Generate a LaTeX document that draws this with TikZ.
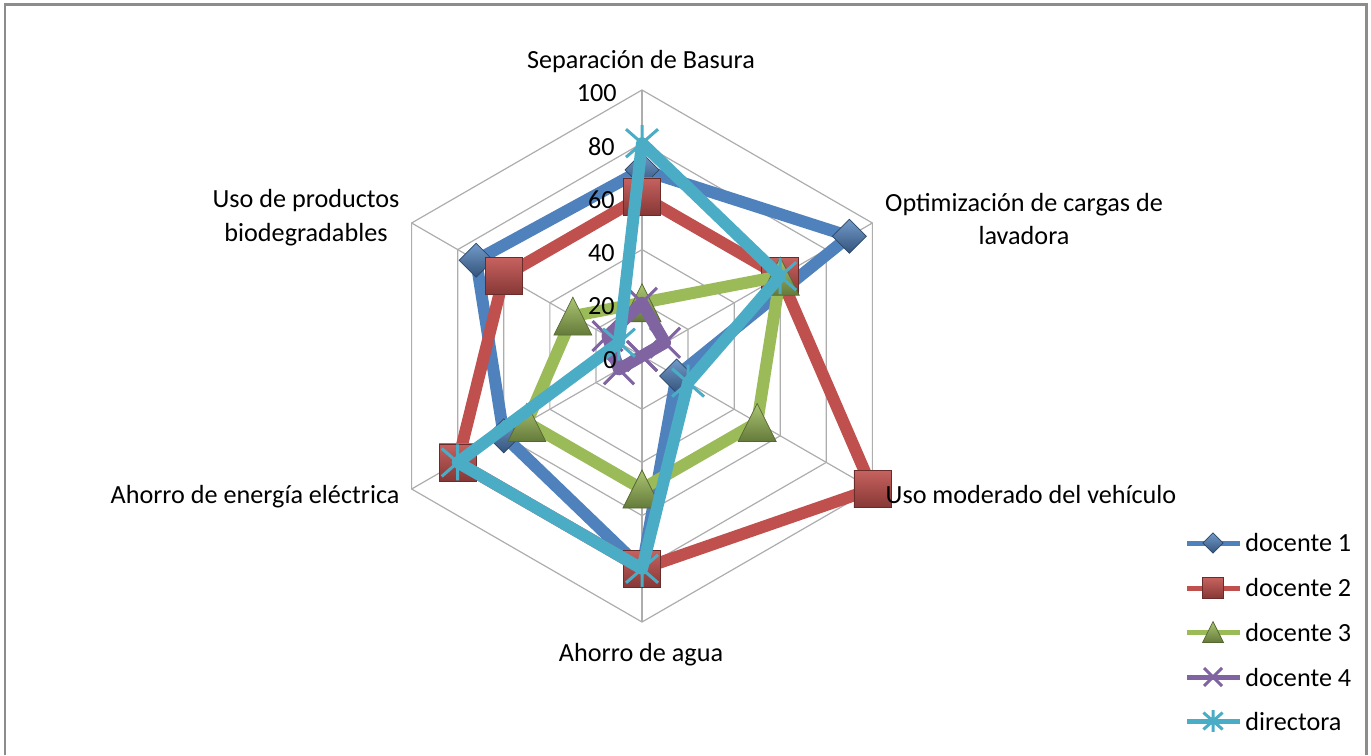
\documentclass[tikz,border=0pt]{standalone}
\usepackage{fontspec}
\setmainfont{Carlito}
\usetikzlibrary{calc}
\definecolor{azul}{HTML}{4F81BD}
\definecolor{rojo}{HTML}{C0504D}
\definecolor{verde}{HTML}{9BBB59}
\definecolor{morado}{HTML}{8064A2}
\definecolor{celeste}{HTML}{4BACC6}
\definecolor{marcogris}{HTML}{8C8C8C}
\definecolor{rejillagris}{HTML}{ADADAD}
\def\escala{2.66}
\tikzset{
	rejilla/.style={draw=rejillagris, line width=0.024cm},
	marco/.style={draw=marcogris, line width=0.06cm},
	serie/.style={line width=0.24cm, line join=round},
	eje/.style={anchor=east, inner sep=0pt},
	etiqueta/.style={align=center, inner sep=0pt},
	leyenda/.style={anchor=west, inner sep=0pt},
	diamante/.pic={\path[draw=azul!55!black, line width=0.4pt, top color=azul!80!white, bottom color=azul!65!black] (0,17) -- (17,0) -- (0,-17) -- (-17,0) -- cycle;},
	cuadro/.pic={\path[draw=rojo!55!black, line width=0.4pt, top color=rojo!90!white, bottom color=rojo!70!black] (-18.5,-18.5) rectangle (18.5,18.5);},
	triangulo/.pic={\path[draw=verde!55!black, line width=0.4pt, top color=verde!85!white, bottom color=verde!65!black] (0,19) -- (19,-19) -- (-19,-19) -- cycle;},
	equis/.pic={\draw[morado, line width=0.06cm] (-15,-15) -- (15,15) (-15,15) -- (15,-15);},
	estrella/.pic={\draw[celeste, line width=0.06cm] (-16,-14) -- (16,14) (-16,14) -- (16,-14) (0,-18) -- (0,18);}
}

\begin{document}
\begin{tikzpicture}[x=0.02cm, y=0.02cm, font=\fontsize{14.9}{19.3}\selectfont]
	%%%%% START %%%%%
	\useasboundingbox (0,0) rectangle (1371,755);
	\draw[marco] (5,0) -- (5,750) -- (1366,750) -- (1366,0);
	
	\begin{scope}[shift={(642,399)}]
		% anillos y radios
		\foreach \v in {20,40,60,80,100}
			\draw[rejilla] (90:{\v*\escala}) -- (30:{\v*\escala}) -- (-30:{\v*\escala}) -- (-90:{\v*\escala}) -- (210:{\v*\escala}) -- (150:{\v*\escala}) -- cycle;
		\foreach \a in {90,30,-30,-90,210,150}
			\draw[rejilla] (0,0) -- (\a:{100*\escala});
		
		% docente 1
		\coordinate (a1) at (90:{70*\escala});
		\coordinate (a2) at (30:{90*\escala});
		\coordinate (a3) at (-30:{15*\escala});
		\coordinate (a4) at (-90:{80*\escala});
		\coordinate (a5) at (210:{60*\escala});
		\coordinate (a6) at (150:{72*\escala});
		\draw[serie, azul] (a1) -- (a2) -- (a3) -- (a4) -- (a5) -- (a6) -- cycle;
		\pic at (a1) {diamante}; \pic at (a2) {diamante}; \pic at (a3) {diamante};
		\pic at (a4) {diamante}; \pic at (a5) {diamante}; \pic at (a6) {diamante};
		
		% docente 2
		\coordinate (b1) at (90:{60*\escala});
		\coordinate (b2) at (30:{60*\escala});
		\coordinate (b3) at (-30:{100*\escala});
		\coordinate (b4) at (-90:{80*\escala});
		\coordinate (b5) at (210:{80*\escala});
		\coordinate (b6) at (150:{60*\escala});
		\draw[serie, rojo] (b1) -- (b2) -- (b3) -- (b4) -- (b5) -- (b6) -- cycle;
		\pic at (b1) {cuadro}; \pic at (b2) {cuadro}; \pic at (b3) {cuadro};
		\pic at (b4) {cuadro}; \pic at (b5) {cuadro}; \pic at (b6) {cuadro};
		
		% docente 3
		\coordinate (c1) at (90:{20*\escala});
		\coordinate (c2) at (30:{60*\escala});
		\coordinate (c3) at (-30:{50*\escala});
		\coordinate (c4) at (-90:{50*\escala});
		\coordinate (c5) at (210:{50*\escala});
		\coordinate (c6) at (150:{30*\escala});
		\draw[serie, verde] (c1) -- (c2) -- (c3) -- (c4) -- (c5) -- (c6) -- cycle;
		\pic at (c1) {triangulo}; \pic at (c2) {triangulo}; \pic at (c3) {triangulo};
		\pic at (c4) {triangulo}; \pic at (c5) {triangulo}; \pic at (c6) {triangulo};
		
		% docente 4
		\coordinate (d1) at (90:{20*\escala});
		\coordinate (d2) at (30:{10*\escala});
		\coordinate (d3) at (-30:{0*\escala});
		\coordinate (d4) at (-90:{0*\escala});
		\coordinate (d5) at (210:{10*\escala});
		\coordinate (d6) at (150:{15*\escala});
		\draw[serie, morado] (d1) -- (d2) -- (d3) -- (d4) -- (d5) -- (d6) -- cycle;
		\pic at (d1) {equis}; \pic at (d2) {equis}; \pic at (d3) {equis};
		\pic at (d4) {equis}; \pic at (d5) {equis}; \pic at (d6) {equis};
		
		% directora
		\coordinate (e1) at (90:{80*\escala});
		\coordinate (e2) at (30:{60*\escala});
		\coordinate (e3) at (-30:{20*\escala});
		\coordinate (e4) at (-90:{80*\escala});
		\coordinate (e5) at (210:{80*\escala});
		\coordinate (e6) at (150:{10*\escala});
		\draw[serie, celeste] (e1) -- (e2) -- (e3) -- (e4) -- (e5) -- (e6) -- cycle;
		\pic at (e1) {estrella}; \pic at (e2) {estrella}; \pic at (e3) {estrella};
		\pic at (e4) {estrella}; \pic at (e5) {estrella}; \pic at (e6) {estrella};
		
		% escala del eje
		\node[eje] (n100) at (-25,{100*\escala-3}) {100};
		\node[eje] (n80) at (-27,{80*\escala-3}) {80};
		\node[eje] (n60) at (-27,{60*\escala-3}) {60};
		\node[eje] (n40) at (-27,{40*\escala-3}) {40};
		\node[eje] (n20) at (-27,{20*\escala-3}) {20};
		\node[eje] (n0) at (-25,-4) {0};
	\end{scope}
	
	% categorias
	\node[etiqueta] (basura) at (641,693) {Separación de Basura};
	\node[etiqueta] (lavadora) at (1024,536) {Optimización de cargas de\\lavadora};
	\node[etiqueta] (vehiculo) at (1031,260) {Uso moderado del vehículo};
	\node[etiqueta] (agua) at (641,100) {Ahorro de agua};
	\node[etiqueta] (energia) at (255,258) {Ahorro de energía eléctrica};
	\node[etiqueta] (productos) at (306,537) {Uso de productos\\biodegradables};
	
	% leyenda
	\draw[azul, line width=0.1cm] (1187,212) -- (1240,212);
	\pic[scale=0.6] at (1213,212) {diamante};
	\node[leyenda] (ley1) at (1245,212) {docente 1};
	\draw[rojo, line width=0.1cm] (1187,167) -- (1240,167);
	\pic[scale=0.55] at (1213,167) {cuadro};
	\node[leyenda] (ley2) at (1245,167) {docente 2};
	\draw[verde, line width=0.1cm] (1187,123) -- (1240,123);
	\pic[scale=0.55] at (1213,123) {triangulo};
	\node[leyenda] (ley3) at (1245,123) {docente 3};
	\draw[morado, line width=0.1cm] (1187,78) -- (1240,78);
	\pic[scale=0.6] at (1213,78) {equis};
	\node[leyenda] (ley4) at (1245,78) {docente 4};
	\draw[celeste, line width=0.1cm] (1187,34) -- (1240,34);
	\pic[scale=0.6] at (1213,34) {estrella};
	\node[leyenda] (ley5) at (1245,34) {directora};
	
	%%%%% END %%%%%
\end{tikzpicture}
\end{document}
